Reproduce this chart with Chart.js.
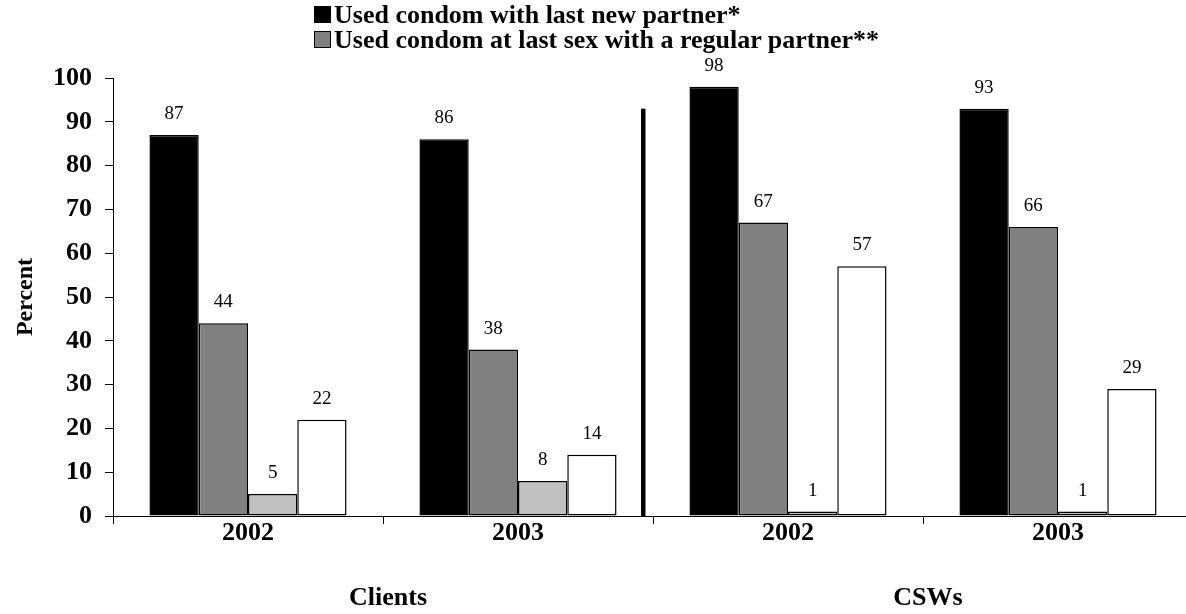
<!DOCTYPE html>
<html>
<head>
<meta charset="utf-8">
<title>Condom use</title>
<script src="https://cdn.jsdelivr.net/npm/chart.js@4/dist/chart.umd.min.js"></script>
<style>
    html, body { margin: 0; padding: 0; background: #fff; overflow: hidden; }
    #wrap { position: relative; width: 1186px; height: 614px; overflow: hidden; }
    #chart { position: absolute; left: 0; top: 0; }
    #legend { position: absolute; left: 314px; top: 2px; font: bold 26px "Liberation Serif", serif; color: #000; }
    .lg-row { display: flex; align-items: center; height: 25px; line-height: 25px; white-space: nowrap; }
    .lg-box { width: 15px; height: 15px; border: 1px solid #000; margin-right: 3px; }
</style>
</head>
<body>
<div id="wrap">
    <canvas id="chart" width="1200" height="614"></canvas>
    <div id="legend"></div>
</div>
<script>
// ── Data ──────────────────────────────────────────────────
var years          = ['2002', '2003', '2002', '2003'];
var groups         = ['Clients', 'CSWs'];
var newPartner     = [87, 86, 98, 93];
var regularPartner = [44, 38, 67, 66];
var thirdSeries    = [5, 8, 1, 1];
var fourthSeries   = [22, 14, 57, 29];
var yTicks         = [0, 10, 20, 30, 40, 50, 60, 70, 80, 90, 100];

var SERIF = '"Liberation Serif", "Times New Roman", serif';

// bar value labels above each bar
var valueLabels = {
    id: 'valueLabels',
    afterDatasetsDraw: function (chart) {
        var ctx = chart.ctx;
        ctx.save();
        ctx.font = '19px ' + SERIF;
        ctx.fillStyle = '#000';
        ctx.textAlign = 'center';
        ctx.textBaseline = 'middle';
        chart.data.datasets.forEach(function (ds, i) {
            chart.getDatasetMeta(i).data.forEach(function (bar, j) {
                ctx.fillText(String(ds.data[j]), bar.x, bar.y - 21);
            });
        });
        ctx.restore();
    }
};

// divider between the two groups + group names under the years
var groupDivider = {
    id: 'groupDivider',
    afterDraw: function (chart) {
        var ctx = chart.ctx;
        var x = chart.scales.x, y = chart.scales.y;
        ctx.save();
        var mid = (x.getPixelForValue(1) + x.getPixelForValue(2)) / 2 - 10;
        var top = y.getPixelForValue(93);
        ctx.fillStyle = '#000';
        ctx.fillRect(mid - 2, top, 4.5, y.getPixelForValue(0) - top);

        ctx.font = 'bold 26px ' + SERIF;
        ctx.textAlign = 'center';
        ctx.textBaseline = 'middle';
        groups.forEach(function (g, k) {
            var cx = (x.getPixelForValue(2 * k) + x.getPixelForValue(2 * k + 1)) / 2 + 5;
            ctx.fillText(g, cx, 598);
        });
        ctx.restore();
    }
};

var chart = new Chart(document.getElementById('chart'), {
    type: 'bar',
    data: {
        labels: years,
        datasets: [
            { label: 'Used condom with last new partner*', data: newPartner, backgroundColor: '#000000' },
            { label: 'Used condom at last sex with a regular partner**', data: regularPartner, backgroundColor: '#808080' },
            { label: 'Series 3', data: thirdSeries, backgroundColor: '#c0c0c0' },
            { label: 'Series 4', data: fourthSeries, backgroundColor: '#ffffff' }
        ].map(function (d) {
            d.borderColor = '#000';
            d.borderWidth = 1.5;
            d.borderSkipped = false;
            d.categoryPercentage = 0.73;
            d.barPercentage = 1;
            return d;
        })
    },
    options: {
        responsive: false,
        animation: false,
        layout: { padding: { left: 0, right: 7, top: 78, bottom: 0 } },
        plugins: {
            legend: { display: false },
            tooltip: { enabled: false }
        },
        scales: {
            x: {
                afterFit: function (s) { s.height = 98; },
                grid: { drawOnChartArea: false, drawTicks: true, tickLength: 8, color: '#000', offset: true },
                border: { color: '#000', width: 1 },
                ticks: { color: '#000', font: { family: SERIF, size: 26, weight: 'bold' }, padding: -6 }
            },
            y: {
                min: 0,
                max: 100,
                afterFit: function (s) { s.width = 113; },
                afterBuildTicks: function (s) { s.ticks = yTicks.map(function (v) { return { value: v }; }); },
                grid: { drawOnChartArea: false, drawTicks: true, tickLength: 8, color: '#000' },
                border: { color: '#000', width: 1 },
                ticks: { color: '#000', font: { family: SERIF, size: 26, weight: 'bold' }, padding: 13 },
                title: {
                    display: true,
                    text: 'Percent',
                    color: '#000',
                    font: { family: SERIF, size: 24, weight: 'bold' },
                    padding: { top: 11, bottom: 0 }
                }
            }
        }
    },
    plugins: [valueLabels, groupDivider]
});

// ── HTML legend (first two series only) ───────────────────
(function buildLegend() {
    var box = document.getElementById('legend');
    chart.data.datasets.slice(0, 2).forEach(function (ds) {
        var row = document.createElement('div');
        row.className = 'lg-row';
        var sw = document.createElement('span');
        sw.className = 'lg-box';
        sw.style.background = ds.backgroundColor;
        var txt = document.createElement('span');
        txt.textContent = ds.label;
        row.appendChild(sw);
        row.appendChild(txt);
        box.appendChild(row);
    });
}());
</script>
</body>
</html>
